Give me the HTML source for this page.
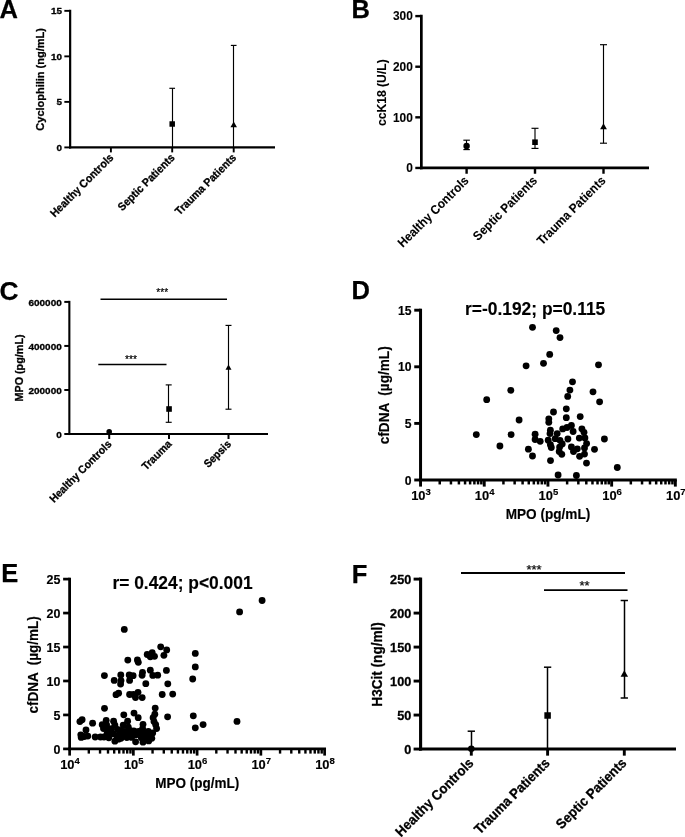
<!DOCTYPE html>
<html><head><meta charset="utf-8"><title>Figure</title>
<style>html,body{margin:0;padding:0;background:#fff}svg{display:block;will-change:transform}</style></head>
<body>
<svg width="685" height="837" viewBox="0 0 685 837" font-family='"Liberation Sans", sans-serif' fill="#000">
<rect width="685" height="837" fill="#fff"/>
<!-- panel A -->
<line x1="70.15" y1="9.75" x2="70.15" y2="148.50" stroke="#000" stroke-width="2.2" stroke-linecap="butt"/>
<line x1="69.05" y1="147.40" x2="275.00" y2="147.40" stroke="#000" stroke-width="2.2" stroke-linecap="butt"/>
<line x1="64.35" y1="147.40" x2="70.15" y2="147.40" stroke="#000" stroke-width="1.9" stroke-linecap="butt"/>
<text transform="translate(62.05,150.77) scale(1.0526,1)" font-size="9.40" font-weight="bold" text-anchor="end"  stroke="#000" stroke-width="0.3" stroke-linejoin="round">0</text>
<line x1="64.35" y1="101.88" x2="70.15" y2="101.88" stroke="#000" stroke-width="1.9" stroke-linecap="butt"/>
<text transform="translate(62.05,105.25) scale(1.0526,1)" font-size="9.40" font-weight="bold" text-anchor="end"  stroke="#000" stroke-width="0.3" stroke-linejoin="round">5</text>
<line x1="64.35" y1="56.37" x2="70.15" y2="56.37" stroke="#000" stroke-width="1.9" stroke-linecap="butt"/>
<text transform="translate(62.05,59.73) scale(1.0526,1)" font-size="9.40" font-weight="bold" text-anchor="end"  stroke="#000" stroke-width="0.3" stroke-linejoin="round">10</text>
<line x1="64.35" y1="10.85" x2="70.15" y2="10.85" stroke="#000" stroke-width="1.9" stroke-linecap="butt"/>
<text transform="translate(62.05,14.22) scale(1.0526,1)" font-size="9.40" font-weight="bold" text-anchor="end"  stroke="#000" stroke-width="0.3" stroke-linejoin="round">15</text>
<line x1="110.90" y1="147.40" x2="110.90" y2="152.40" stroke="#000" stroke-width="1.9" stroke-linecap="butt"/>
<text transform="translate(114.10,158.40) rotate(-45) scale(0.9346,1)" font-size="11.24" font-weight="bold" text-anchor="end"  stroke="#000" stroke-width="0.3" stroke-linejoin="round">Healthy Controls</text>
<line x1="172.20" y1="147.40" x2="172.20" y2="152.40" stroke="#000" stroke-width="1.9" stroke-linecap="butt"/>
<text transform="translate(175.40,158.40) rotate(-45) scale(0.9346,1)" font-size="11.24" font-weight="bold" text-anchor="end"  stroke="#000" stroke-width="0.3" stroke-linejoin="round">Septic Patients</text>
<line x1="233.70" y1="147.40" x2="233.70" y2="152.40" stroke="#000" stroke-width="1.9" stroke-linecap="butt"/>
<text transform="translate(236.90,158.40) rotate(-45) scale(0.9346,1)" font-size="11.24" font-weight="bold" text-anchor="end"  stroke="#000" stroke-width="0.3" stroke-linejoin="round">Trauma Patients</text>
<text transform="translate(44.30,79.40) rotate(-90) scale(0.9346,1)" font-size="11.77" font-weight="bold" text-anchor="middle"  stroke="#000" stroke-width="0.3" stroke-linejoin="round">Cyclophilin (ng/mL)</text>
<text transform="translate(-0.60,17.60) scale(1.0000,1)" font-size="25.50" font-weight="bold" text-anchor="start"  stroke="#000" stroke-width="0.25" stroke-linejoin="round">A</text>
<!-- panel B -->
<line x1="421.35" y1="14.75" x2="421.35" y2="169.30" stroke="#000" stroke-width="2.7" stroke-linecap="butt"/>
<line x1="420.00" y1="167.95" x2="649.00" y2="167.95" stroke="#000" stroke-width="2.7" stroke-linecap="butt"/>
<line x1="415.30" y1="167.95" x2="421.35" y2="167.95" stroke="#000" stroke-width="2.4" stroke-linecap="butt"/>
<text transform="translate(412.80,172.30) scale(0.9804,1)" font-size="12.14" font-weight="bold" text-anchor="end"  stroke="#000" stroke-width="0.1" stroke-linejoin="round">0</text>
<line x1="415.30" y1="117.33" x2="421.35" y2="117.33" stroke="#000" stroke-width="2.4" stroke-linecap="butt"/>
<text transform="translate(412.80,121.68) scale(0.9804,1)" font-size="12.14" font-weight="bold" text-anchor="end"  stroke="#000" stroke-width="0.1" stroke-linejoin="round">100</text>
<line x1="415.30" y1="66.72" x2="421.35" y2="66.72" stroke="#000" stroke-width="2.4" stroke-linecap="butt"/>
<text transform="translate(412.80,71.06) scale(0.9804,1)" font-size="12.14" font-weight="bold" text-anchor="end"  stroke="#000" stroke-width="0.1" stroke-linejoin="round">200</text>
<line x1="415.30" y1="16.10" x2="421.35" y2="16.10" stroke="#000" stroke-width="2.4" stroke-linecap="butt"/>
<text transform="translate(412.80,20.45) scale(0.9804,1)" font-size="12.14" font-weight="bold" text-anchor="end"  stroke="#000" stroke-width="0.1" stroke-linejoin="round">300</text>
<line x1="466.60" y1="167.95" x2="466.60" y2="173.75" stroke="#000" stroke-width="2.4" stroke-linecap="butt"/>
<text transform="translate(469.50,181.35) rotate(-45) scale(0.9346,1)" font-size="12.63" font-weight="bold" text-anchor="end"  stroke="#000" stroke-width="0.1" stroke-linejoin="round">Healthy Controls</text>
<line x1="535.00" y1="167.95" x2="535.00" y2="173.75" stroke="#000" stroke-width="2.4" stroke-linecap="butt"/>
<text transform="translate(537.90,181.35) rotate(-45) scale(0.9346,1)" font-size="12.63" font-weight="bold" text-anchor="end"  stroke="#000" stroke-width="0.1" stroke-linejoin="round">Septic Patients</text>
<line x1="603.50" y1="167.95" x2="603.50" y2="173.75" stroke="#000" stroke-width="2.4" stroke-linecap="butt"/>
<text transform="translate(606.40,181.35) rotate(-45) scale(0.9346,1)" font-size="12.63" font-weight="bold" text-anchor="end"  stroke="#000" stroke-width="0.1" stroke-linejoin="round">Trauma Patients</text>
<text transform="translate(386.20,92.70) rotate(-90) scale(0.9346,1)" font-size="13.00" font-weight="bold" text-anchor="middle"  stroke="#000" stroke-width="0.1" stroke-linejoin="round">ccK18 (U/L)</text>
<text transform="translate(351.40,17.60) scale(1.0000,1)" font-size="25.50" font-weight="bold" text-anchor="start"  stroke="#000" stroke-width="0.25" stroke-linejoin="round">B</text>
<!-- panel C -->
<line x1="69.35" y1="300.85" x2="69.35" y2="435.05" stroke="#000" stroke-width="2.1" stroke-linecap="butt"/>
<line x1="68.30" y1="434.00" x2="268.00" y2="434.00" stroke="#000" stroke-width="2.1" stroke-linecap="butt"/>
<line x1="64.30" y1="434.00" x2="69.35" y2="434.00" stroke="#000" stroke-width="2.0" stroke-linecap="butt"/>
<text transform="translate(61.80,437.80) scale(1.0526,1)" font-size="9.50" font-weight="bold" text-anchor="end"  stroke="#000" stroke-width="0.3" stroke-linejoin="round">0</text>
<line x1="64.30" y1="389.97" x2="69.35" y2="389.97" stroke="#000" stroke-width="2.0" stroke-linecap="butt"/>
<text transform="translate(61.80,393.77) scale(1.0526,1)" font-size="9.50" font-weight="bold" text-anchor="end"  stroke="#000" stroke-width="0.3" stroke-linejoin="round">200000</text>
<line x1="64.30" y1="345.93" x2="69.35" y2="345.93" stroke="#000" stroke-width="2.0" stroke-linecap="butt"/>
<text transform="translate(61.80,349.73) scale(1.0526,1)" font-size="9.50" font-weight="bold" text-anchor="end"  stroke="#000" stroke-width="0.3" stroke-linejoin="round">400000</text>
<line x1="64.30" y1="301.90" x2="69.35" y2="301.90" stroke="#000" stroke-width="2.0" stroke-linecap="butt"/>
<text transform="translate(61.80,305.70) scale(1.0526,1)" font-size="9.50" font-weight="bold" text-anchor="end"  stroke="#000" stroke-width="0.3" stroke-linejoin="round">600000</text>
<line x1="109.20" y1="434.00" x2="109.20" y2="439.00" stroke="#000" stroke-width="2.0" stroke-linecap="butt"/>
<text transform="translate(112.40,444.80) rotate(-45) scale(0.9346,1)" font-size="11.07" font-weight="bold" text-anchor="end"  stroke="#000" stroke-width="0.3" stroke-linejoin="round">Healthy Controls</text>
<line x1="169.00" y1="434.00" x2="169.00" y2="439.00" stroke="#000" stroke-width="2.0" stroke-linecap="butt"/>
<text transform="translate(172.20,444.80) rotate(-45) scale(0.9346,1)" font-size="11.07" font-weight="bold" text-anchor="end"  stroke="#000" stroke-width="0.3" stroke-linejoin="round">Trauma</text>
<line x1="228.50" y1="434.00" x2="228.50" y2="439.00" stroke="#000" stroke-width="2.0" stroke-linecap="butt"/>
<text transform="translate(231.70,444.80) rotate(-45) scale(0.9346,1)" font-size="11.07" font-weight="bold" text-anchor="end"  stroke="#000" stroke-width="0.3" stroke-linejoin="round">Sepsis</text>
<text transform="translate(22.50,368.00) rotate(-90) scale(0.9346,1)" font-size="11.56" font-weight="bold" text-anchor="middle"  stroke="#000" stroke-width="0.3" stroke-linejoin="round">MPO (pg/mL)</text>
<text transform="translate(-0.60,299.80) scale(1.0000,1)" font-size="26.30" font-weight="bold" text-anchor="start"  stroke="#000" stroke-width="0.25" stroke-linejoin="round">C</text>
<!-- panel F -->
<line x1="420.60" y1="577.55" x2="420.60" y2="750.60" stroke="#000" stroke-width="3.1" stroke-linecap="butt"/>
<line x1="419.05" y1="749.05" x2="676.00" y2="749.05" stroke="#000" stroke-width="3.1" stroke-linecap="butt"/>
<line x1="413.60" y1="749.05" x2="420.60" y2="749.05" stroke="#000" stroke-width="2.9" stroke-linecap="butt"/>
<text transform="translate(411.30,753.91) scale(0.9346,1)" font-size="13.59" font-weight="bold" text-anchor="end"  stroke="#000" stroke-width="0.3" stroke-linejoin="round">0</text>
<line x1="413.60" y1="715.06" x2="420.60" y2="715.06" stroke="#000" stroke-width="2.9" stroke-linecap="butt"/>
<text transform="translate(411.30,719.92) scale(0.9346,1)" font-size="13.59" font-weight="bold" text-anchor="end"  stroke="#000" stroke-width="0.3" stroke-linejoin="round">50</text>
<line x1="413.60" y1="681.07" x2="420.60" y2="681.07" stroke="#000" stroke-width="2.9" stroke-linecap="butt"/>
<text transform="translate(411.30,685.93) scale(0.9346,1)" font-size="13.59" font-weight="bold" text-anchor="end"  stroke="#000" stroke-width="0.3" stroke-linejoin="round">100</text>
<line x1="413.60" y1="647.08" x2="420.60" y2="647.08" stroke="#000" stroke-width="2.9" stroke-linecap="butt"/>
<text transform="translate(411.30,651.94) scale(0.9346,1)" font-size="13.59" font-weight="bold" text-anchor="end"  stroke="#000" stroke-width="0.3" stroke-linejoin="round">150</text>
<line x1="413.60" y1="613.09" x2="420.60" y2="613.09" stroke="#000" stroke-width="2.9" stroke-linecap="butt"/>
<text transform="translate(411.30,617.95) scale(0.9346,1)" font-size="13.59" font-weight="bold" text-anchor="end"  stroke="#000" stroke-width="0.3" stroke-linejoin="round">200</text>
<line x1="413.60" y1="579.10" x2="420.60" y2="579.10" stroke="#000" stroke-width="2.9" stroke-linecap="butt"/>
<text transform="translate(411.30,583.96) scale(0.9346,1)" font-size="13.59" font-weight="bold" text-anchor="end"  stroke="#000" stroke-width="0.3" stroke-linejoin="round">250</text>
<line x1="471.30" y1="749.05" x2="471.30" y2="755.65" stroke="#000" stroke-width="2.9" stroke-linecap="butt"/>
<text transform="translate(474.40,763.95) rotate(-45) scale(0.9346,1)" font-size="13.91" font-weight="bold" text-anchor="end"  stroke="#000" stroke-width="0.3" stroke-linejoin="round">Healthy Controls</text>
<line x1="547.60" y1="749.05" x2="547.60" y2="755.65" stroke="#000" stroke-width="2.9" stroke-linecap="butt"/>
<text transform="translate(550.70,763.95) rotate(-45) scale(0.9346,1)" font-size="13.91" font-weight="bold" text-anchor="end"  stroke="#000" stroke-width="0.3" stroke-linejoin="round">Trauma Patients</text>
<line x1="624.30" y1="749.05" x2="624.30" y2="755.65" stroke="#000" stroke-width="2.9" stroke-linecap="butt"/>
<text transform="translate(627.40,763.95) rotate(-45) scale(0.9346,1)" font-size="13.91" font-weight="bold" text-anchor="end"  stroke="#000" stroke-width="0.3" stroke-linejoin="round">Septic Patients</text>
<text transform="translate(382.30,664.40) rotate(-90) scale(0.9346,1)" font-size="14.55" font-weight="bold" text-anchor="middle"  stroke="#000" stroke-width="0.3" stroke-linejoin="round">H3Cit (ng/ml)</text>
<text transform="translate(351.80,582.60) scale(1.0000,1)" font-size="25.50" font-weight="bold" text-anchor="start"  stroke="#000" stroke-width="0.25" stroke-linejoin="round">F</text>
<line x1="172.50" y1="88.30" x2="172.50" y2="147.40" stroke="#000" stroke-width="1.15" stroke-linecap="butt"/>
<line x1="169.35" y1="88.30" x2="175.05" y2="88.30" stroke="#000" stroke-width="1.15" stroke-linecap="butt"/>
<rect x="169.45" y="121.25" width="5.5" height="5.5" fill="#000"/>
<line x1="233.50" y1="45.40" x2="233.50" y2="147.40" stroke="#000" stroke-width="1.15" stroke-linecap="butt"/>
<line x1="230.85" y1="45.40" x2="236.55" y2="45.40" stroke="#000" stroke-width="1.15" stroke-linecap="butt"/>
<polygon points="233.70,121.60 230.45,127.30 236.95,127.30" fill="#000"/>
<line x1="466.50" y1="140.20" x2="466.50" y2="149.60" stroke="#000" stroke-width="1.15" stroke-linecap="butt"/>
<line x1="463.35" y1="140.20" x2="469.85" y2="140.20" stroke="#000" stroke-width="1.15" stroke-linecap="butt"/>
<line x1="463.35" y1="149.60" x2="469.85" y2="149.60" stroke="#000" stroke-width="1.15" stroke-linecap="butt"/>
<circle cx="466.60" cy="145.90" r="3.2" fill="#000"/>
<line x1="535.00" y1="128.30" x2="535.00" y2="148.40" stroke="#000" stroke-width="1.15" stroke-linecap="butt"/>
<line x1="531.50" y1="128.30" x2="538.50" y2="128.30" stroke="#000" stroke-width="1.15" stroke-linecap="butt"/>
<line x1="531.50" y1="148.40" x2="538.50" y2="148.40" stroke="#000" stroke-width="1.15" stroke-linecap="butt"/>
<rect x="532.20" y="139.40" width="5.6" height="5.6" fill="#000"/>
<line x1="603.50" y1="44.70" x2="603.50" y2="143.20" stroke="#000" stroke-width="1.15" stroke-linecap="butt"/>
<line x1="600.00" y1="44.70" x2="607.00" y2="44.70" stroke="#000" stroke-width="1.15" stroke-linecap="butt"/>
<line x1="600.00" y1="143.20" x2="607.00" y2="143.20" stroke="#000" stroke-width="1.15" stroke-linecap="butt"/>
<polygon points="603.50,123.30 600.10,129.30 606.90,129.30" fill="#000"/>
<circle cx="109.20" cy="431.80" r="2.8" fill="#000"/>
<line x1="168.50" y1="384.90" x2="168.50" y2="422.30" stroke="#000" stroke-width="1.15" stroke-linecap="butt"/>
<line x1="165.70" y1="384.90" x2="171.70" y2="384.90" stroke="#000" stroke-width="1.15" stroke-linecap="butt"/>
<line x1="165.70" y1="422.30" x2="171.70" y2="422.30" stroke="#000" stroke-width="1.15" stroke-linecap="butt"/>
<rect x="166.25" y="406.20" width="5.6" height="5.6" fill="#000"/>
<line x1="228.50" y1="325.40" x2="228.50" y2="409.20" stroke="#000" stroke-width="1.15" stroke-linecap="butt"/>
<line x1="225.50" y1="325.40" x2="231.50" y2="325.40" stroke="#000" stroke-width="1.15" stroke-linecap="butt"/>
<line x1="225.50" y1="409.20" x2="231.50" y2="409.20" stroke="#000" stroke-width="1.15" stroke-linecap="butt"/>
<polygon points="228.50,364.60 225.50,369.80 231.50,369.80" fill="#000"/>
<line x1="100.50" y1="299.20" x2="227.00" y2="299.20" stroke="#000" stroke-width="1.5" stroke-linecap="butt"/>
<text transform="translate(162.30,295.90) scale(1.0000,1)" font-size="10.20" font-weight="normal" text-anchor="middle"  stroke="#000" stroke-width="0.2" stroke-linejoin="round">***</text>
<line x1="98.30" y1="364.60" x2="166.50" y2="364.60" stroke="#000" stroke-width="1.5" stroke-linecap="butt"/>
<text transform="translate(131.00,362.80) scale(1.0000,1)" font-size="10.20" font-weight="normal" text-anchor="middle"  stroke="#000" stroke-width="0.2" stroke-linejoin="round">***</text>
<line x1="471.50" y1="731.20" x2="471.50" y2="749.10" stroke="#000" stroke-width="1.5" stroke-linecap="butt"/>
<line x1="467.65" y1="731.20" x2="474.95" y2="731.20" stroke="#000" stroke-width="1.5" stroke-linecap="butt"/>
<circle cx="471.30" cy="748.70" r="3.3" fill="#000"/>
<line x1="547.50" y1="667.20" x2="547.50" y2="749.10" stroke="#000" stroke-width="1.5" stroke-linecap="butt"/>
<line x1="543.95" y1="667.20" x2="551.25" y2="667.20" stroke="#000" stroke-width="1.5" stroke-linecap="butt"/>
<rect x="544.35" y="712.25" width="6.5" height="6.5" fill="#000"/>
<line x1="624.50" y1="600.50" x2="624.50" y2="698.00" stroke="#000" stroke-width="1.5" stroke-linecap="butt"/>
<line x1="620.65" y1="600.50" x2="627.95" y2="600.50" stroke="#000" stroke-width="1.5" stroke-linecap="butt"/>
<line x1="620.65" y1="698.00" x2="627.95" y2="698.00" stroke="#000" stroke-width="1.5" stroke-linecap="butt"/>
<polygon points="624.30,670.20 620.55,676.80 628.05,676.80" fill="#000"/>
<line x1="461.00" y1="573.00" x2="625.00" y2="573.00" stroke="#000" stroke-width="1.8" stroke-linecap="butt"/>
<text transform="translate(534.00,573.50) scale(1.0000,1)" font-size="13.00" font-weight="normal" text-anchor="middle"  stroke="#000" stroke-width="0.2" stroke-linejoin="round">***</text>
<line x1="544.00" y1="590.10" x2="627.50" y2="590.10" stroke="#000" stroke-width="1.8" stroke-linecap="butt"/>
<text transform="translate(584.50,590.20) scale(1.0000,1)" font-size="13.00" font-weight="normal" text-anchor="middle"  stroke="#000" stroke-width="0.2" stroke-linejoin="round">**</text>
<!-- panel D -->
<line x1="420.55" y1="308.70" x2="420.55" y2="481.50" stroke="#000" stroke-width="3.0" stroke-linecap="butt"/>
<line x1="419.05" y1="480.00" x2="676.85" y2="480.00" stroke="#000" stroke-width="3.0" stroke-linecap="butt"/>
<line x1="414.25" y1="480.00" x2="420.55" y2="480.00" stroke="#000" stroke-width="2.9" stroke-linecap="butt"/>
<text transform="translate(411.45,484.67) scale(0.9346,1)" font-size="13.05" font-weight="bold" text-anchor="end"  stroke="#000" stroke-width="0.15" stroke-linejoin="round">0</text>
<line x1="414.25" y1="423.40" x2="420.55" y2="423.40" stroke="#000" stroke-width="2.9" stroke-linecap="butt"/>
<text transform="translate(411.45,428.07) scale(0.9346,1)" font-size="13.05" font-weight="bold" text-anchor="end"  stroke="#000" stroke-width="0.15" stroke-linejoin="round">5</text>
<line x1="414.25" y1="366.80" x2="420.55" y2="366.80" stroke="#000" stroke-width="2.9" stroke-linecap="butt"/>
<text transform="translate(411.45,371.47) scale(0.9346,1)" font-size="13.05" font-weight="bold" text-anchor="end"  stroke="#000" stroke-width="0.15" stroke-linejoin="round">10</text>
<line x1="414.25" y1="310.20" x2="420.55" y2="310.20" stroke="#000" stroke-width="2.9" stroke-linecap="butt"/>
<text transform="translate(411.45,314.87) scale(0.9346,1)" font-size="13.05" font-weight="bold" text-anchor="end"  stroke="#000" stroke-width="0.15" stroke-linejoin="round">15</text>
<line x1="420.55" y1="480.00" x2="420.55" y2="486.60" stroke="#000" stroke-width="2.9" stroke-linecap="butt"/>
<text x="421.00" y="499.80" font-size="12.90" font-weight="bold" text-anchor="middle" stroke="#000" stroke-width="0.15">10<tspan dy="-5.0" font-size="9.55">3</tspan></text>
<line x1="439.73" y1="480.00" x2="439.73" y2="484.45" stroke="#000" stroke-width="2.5" stroke-linecap="butt"/>
<line x1="450.94" y1="480.00" x2="450.94" y2="484.45" stroke="#000" stroke-width="2.5" stroke-linecap="butt"/>
<line x1="458.90" y1="480.00" x2="458.90" y2="484.45" stroke="#000" stroke-width="2.5" stroke-linecap="butt"/>
<line x1="465.07" y1="480.00" x2="465.07" y2="484.45" stroke="#000" stroke-width="2.5" stroke-linecap="butt"/>
<line x1="470.12" y1="480.00" x2="470.12" y2="484.45" stroke="#000" stroke-width="2.5" stroke-linecap="butt"/>
<line x1="474.38" y1="480.00" x2="474.38" y2="484.45" stroke="#000" stroke-width="2.5" stroke-linecap="butt"/>
<line x1="478.08" y1="480.00" x2="478.08" y2="484.45" stroke="#000" stroke-width="2.5" stroke-linecap="butt"/>
<line x1="481.34" y1="480.00" x2="481.34" y2="484.45" stroke="#000" stroke-width="2.5" stroke-linecap="butt"/>
<line x1="484.25" y1="480.00" x2="484.25" y2="486.60" stroke="#000" stroke-width="2.9" stroke-linecap="butt"/>
<text x="484.70" y="499.80" font-size="12.90" font-weight="bold" text-anchor="middle" stroke="#000" stroke-width="0.15">10<tspan dy="-5.0" font-size="9.55">4</tspan></text>
<line x1="503.43" y1="480.00" x2="503.43" y2="484.45" stroke="#000" stroke-width="2.5" stroke-linecap="butt"/>
<line x1="514.64" y1="480.00" x2="514.64" y2="484.45" stroke="#000" stroke-width="2.5" stroke-linecap="butt"/>
<line x1="522.60" y1="480.00" x2="522.60" y2="484.45" stroke="#000" stroke-width="2.5" stroke-linecap="butt"/>
<line x1="528.77" y1="480.00" x2="528.77" y2="484.45" stroke="#000" stroke-width="2.5" stroke-linecap="butt"/>
<line x1="533.82" y1="480.00" x2="533.82" y2="484.45" stroke="#000" stroke-width="2.5" stroke-linecap="butt"/>
<line x1="538.08" y1="480.00" x2="538.08" y2="484.45" stroke="#000" stroke-width="2.5" stroke-linecap="butt"/>
<line x1="541.78" y1="480.00" x2="541.78" y2="484.45" stroke="#000" stroke-width="2.5" stroke-linecap="butt"/>
<line x1="545.04" y1="480.00" x2="545.04" y2="484.45" stroke="#000" stroke-width="2.5" stroke-linecap="butt"/>
<line x1="547.95" y1="480.00" x2="547.95" y2="486.60" stroke="#000" stroke-width="2.9" stroke-linecap="butt"/>
<text x="548.40" y="499.80" font-size="12.90" font-weight="bold" text-anchor="middle" stroke="#000" stroke-width="0.15">10<tspan dy="-5.0" font-size="9.55">5</tspan></text>
<line x1="567.13" y1="480.00" x2="567.13" y2="484.45" stroke="#000" stroke-width="2.5" stroke-linecap="butt"/>
<line x1="578.34" y1="480.00" x2="578.34" y2="484.45" stroke="#000" stroke-width="2.5" stroke-linecap="butt"/>
<line x1="586.30" y1="480.00" x2="586.30" y2="484.45" stroke="#000" stroke-width="2.5" stroke-linecap="butt"/>
<line x1="592.47" y1="480.00" x2="592.47" y2="484.45" stroke="#000" stroke-width="2.5" stroke-linecap="butt"/>
<line x1="597.52" y1="480.00" x2="597.52" y2="484.45" stroke="#000" stroke-width="2.5" stroke-linecap="butt"/>
<line x1="601.78" y1="480.00" x2="601.78" y2="484.45" stroke="#000" stroke-width="2.5" stroke-linecap="butt"/>
<line x1="605.48" y1="480.00" x2="605.48" y2="484.45" stroke="#000" stroke-width="2.5" stroke-linecap="butt"/>
<line x1="608.74" y1="480.00" x2="608.74" y2="484.45" stroke="#000" stroke-width="2.5" stroke-linecap="butt"/>
<line x1="611.65" y1="480.00" x2="611.65" y2="486.60" stroke="#000" stroke-width="2.9" stroke-linecap="butt"/>
<text x="612.10" y="499.80" font-size="12.90" font-weight="bold" text-anchor="middle" stroke="#000" stroke-width="0.15">10<tspan dy="-5.0" font-size="9.55">6</tspan></text>
<line x1="630.83" y1="480.00" x2="630.83" y2="484.45" stroke="#000" stroke-width="2.5" stroke-linecap="butt"/>
<line x1="642.04" y1="480.00" x2="642.04" y2="484.45" stroke="#000" stroke-width="2.5" stroke-linecap="butt"/>
<line x1="650.00" y1="480.00" x2="650.00" y2="484.45" stroke="#000" stroke-width="2.5" stroke-linecap="butt"/>
<line x1="656.17" y1="480.00" x2="656.17" y2="484.45" stroke="#000" stroke-width="2.5" stroke-linecap="butt"/>
<line x1="661.22" y1="480.00" x2="661.22" y2="484.45" stroke="#000" stroke-width="2.5" stroke-linecap="butt"/>
<line x1="665.48" y1="480.00" x2="665.48" y2="484.45" stroke="#000" stroke-width="2.5" stroke-linecap="butt"/>
<line x1="669.18" y1="480.00" x2="669.18" y2="484.45" stroke="#000" stroke-width="2.5" stroke-linecap="butt"/>
<line x1="672.44" y1="480.00" x2="672.44" y2="484.45" stroke="#000" stroke-width="2.5" stroke-linecap="butt"/>
<line x1="675.35" y1="480.00" x2="675.35" y2="486.60" stroke="#000" stroke-width="2.9" stroke-linecap="butt"/>
<text x="675.80" y="499.80" font-size="12.90" font-weight="bold" text-anchor="middle" stroke="#000" stroke-width="0.15">10<tspan dy="-5.0" font-size="9.55">7</tspan></text>
<text transform="translate(389.30,395.30) rotate(-90) scale(0.9346,1)" font-size="14.55" font-weight="bold" text-anchor="middle" style="white-space:pre" stroke="#000" stroke-width="0.15" stroke-linejoin="round">cfDNA  (µg/mL)</text>
<text transform="translate(548.00,519.30) scale(0.9346,1)" font-size="14.55" font-weight="bold" text-anchor="middle"  stroke="#000" stroke-width="0.15" stroke-linejoin="round">MPO (pg/mL)</text>
<text transform="translate(465.00,314.50) scale(0.9346,1)" font-size="18.62" font-weight="bold" text-anchor="start" style="white-space:pre" stroke="#000" stroke-width="0.15" stroke-linejoin="round">r=-0.192; p=0.115</text>
<text transform="translate(351.40,299.30) scale(1.0000,1)" font-size="25.50" font-weight="bold" text-anchor="start"  stroke="#000" stroke-width="0.25" stroke-linejoin="round">D</text>
<circle cx="532.50" cy="327.30" r="3.42" fill="#000"/>
<circle cx="556.20" cy="330.60" r="3.42" fill="#000"/>
<circle cx="560.00" cy="337.60" r="3.42" fill="#000"/>
<circle cx="549.70" cy="354.40" r="3.42" fill="#000"/>
<circle cx="543.50" cy="363.30" r="3.42" fill="#000"/>
<circle cx="526.10" cy="365.80" r="3.42" fill="#000"/>
<circle cx="598.50" cy="364.80" r="3.42" fill="#000"/>
<circle cx="572.50" cy="381.80" r="3.42" fill="#000"/>
<circle cx="510.80" cy="390.30" r="3.42" fill="#000"/>
<circle cx="569.90" cy="390.10" r="3.42" fill="#000"/>
<circle cx="593.00" cy="391.80" r="3.42" fill="#000"/>
<circle cx="486.70" cy="399.70" r="3.42" fill="#000"/>
<circle cx="567.70" cy="396.40" r="3.42" fill="#000"/>
<circle cx="599.60" cy="401.80" r="3.42" fill="#000"/>
<circle cx="566.30" cy="408.80" r="3.42" fill="#000"/>
<circle cx="553.50" cy="412.00" r="3.42" fill="#000"/>
<circle cx="566.30" cy="417.70" r="3.42" fill="#000"/>
<circle cx="580.20" cy="416.60" r="3.42" fill="#000"/>
<circle cx="548.80" cy="418.80" r="3.42" fill="#000"/>
<circle cx="548.80" cy="422.30" r="3.42" fill="#000"/>
<circle cx="519.10" cy="420.00" r="3.42" fill="#000"/>
<circle cx="571.40" cy="425.50" r="3.42" fill="#000"/>
<circle cx="567.00" cy="427.50" r="3.42" fill="#000"/>
<circle cx="562.70" cy="428.90" r="3.42" fill="#000"/>
<circle cx="581.90" cy="428.80" r="3.42" fill="#000"/>
<circle cx="550.40" cy="430.20" r="3.42" fill="#000"/>
<circle cx="573.10" cy="431.50" r="3.42" fill="#000"/>
<circle cx="557.20" cy="433.60" r="3.42" fill="#000"/>
<circle cx="550.00" cy="433.60" r="3.42" fill="#000"/>
<circle cx="535.10" cy="434.20" r="3.42" fill="#000"/>
<circle cx="476.30" cy="434.60" r="3.42" fill="#000"/>
<circle cx="511.10" cy="434.60" r="3.42" fill="#000"/>
<circle cx="584.00" cy="432.30" r="3.42" fill="#000"/>
<circle cx="579.30" cy="438.10" r="3.42" fill="#000"/>
<circle cx="584.90" cy="438.00" r="3.42" fill="#000"/>
<circle cx="567.90" cy="439.00" r="3.42" fill="#000"/>
<circle cx="535.10" cy="439.50" r="3.42" fill="#000"/>
<circle cx="548.20" cy="440.20" r="3.42" fill="#000"/>
<circle cx="555.20" cy="438.70" r="3.42" fill="#000"/>
<circle cx="560.00" cy="440.30" r="3.42" fill="#000"/>
<circle cx="540.20" cy="441.30" r="3.42" fill="#000"/>
<circle cx="604.40" cy="439.00" r="3.42" fill="#000"/>
<circle cx="550.40" cy="444.70" r="3.42" fill="#000"/>
<circle cx="562.20" cy="444.00" r="3.42" fill="#000"/>
<circle cx="586.60" cy="443.60" r="3.42" fill="#000"/>
<circle cx="551.30" cy="447.50" r="3.42" fill="#000"/>
<circle cx="559.60" cy="447.10" r="3.42" fill="#000"/>
<circle cx="571.40" cy="447.00" r="3.42" fill="#000"/>
<circle cx="577.30" cy="448.80" r="3.42" fill="#000"/>
<circle cx="584.50" cy="448.00" r="3.42" fill="#000"/>
<circle cx="594.50" cy="449.30" r="3.42" fill="#000"/>
<circle cx="573.50" cy="451.50" r="3.42" fill="#000"/>
<circle cx="559.20" cy="451.50" r="3.42" fill="#000"/>
<circle cx="561.80" cy="454.30" r="3.42" fill="#000"/>
<circle cx="528.40" cy="449.20" r="3.42" fill="#000"/>
<circle cx="499.90" cy="446.00" r="3.42" fill="#000"/>
<circle cx="532.50" cy="456.00" r="3.42" fill="#000"/>
<circle cx="584.50" cy="454.10" r="3.42" fill="#000"/>
<circle cx="579.60" cy="456.30" r="3.42" fill="#000"/>
<circle cx="550.50" cy="460.60" r="3.42" fill="#000"/>
<circle cx="586.50" cy="463.10" r="3.42" fill="#000"/>
<circle cx="617.30" cy="467.50" r="3.42" fill="#000"/>
<circle cx="558.10" cy="475.00" r="3.42" fill="#000"/>
<circle cx="576.40" cy="475.50" r="3.42" fill="#000"/>
<!-- panel E -->
<line x1="69.62" y1="577.70" x2="69.62" y2="750.30" stroke="#000" stroke-width="2.8" stroke-linecap="butt"/>
<line x1="68.22" y1="748.90" x2="326.02" y2="748.90" stroke="#000" stroke-width="2.8" stroke-linecap="butt"/>
<line x1="63.12" y1="748.90" x2="69.62" y2="748.90" stroke="#000" stroke-width="2.7" stroke-linecap="butt"/>
<text transform="translate(60.52,754.14) scale(0.9346,1)" font-size="13.38" font-weight="bold" text-anchor="end"  stroke="#000" stroke-width="0.15" stroke-linejoin="round">0</text>
<line x1="63.12" y1="714.94" x2="69.62" y2="714.94" stroke="#000" stroke-width="2.7" stroke-linecap="butt"/>
<text transform="translate(60.52,720.18) scale(0.9346,1)" font-size="13.38" font-weight="bold" text-anchor="end"  stroke="#000" stroke-width="0.15" stroke-linejoin="round">5</text>
<line x1="63.12" y1="680.98" x2="69.62" y2="680.98" stroke="#000" stroke-width="2.7" stroke-linecap="butt"/>
<text transform="translate(60.52,686.22) scale(0.9346,1)" font-size="13.38" font-weight="bold" text-anchor="end"  stroke="#000" stroke-width="0.15" stroke-linejoin="round">10</text>
<line x1="63.12" y1="647.02" x2="69.62" y2="647.02" stroke="#000" stroke-width="2.7" stroke-linecap="butt"/>
<text transform="translate(60.52,652.26) scale(0.9346,1)" font-size="13.38" font-weight="bold" text-anchor="end"  stroke="#000" stroke-width="0.15" stroke-linejoin="round">15</text>
<line x1="63.12" y1="613.06" x2="69.62" y2="613.06" stroke="#000" stroke-width="2.7" stroke-linecap="butt"/>
<text transform="translate(60.52,618.30) scale(0.9346,1)" font-size="13.38" font-weight="bold" text-anchor="end"  stroke="#000" stroke-width="0.15" stroke-linejoin="round">20</text>
<line x1="63.12" y1="579.10" x2="69.62" y2="579.10" stroke="#000" stroke-width="2.7" stroke-linecap="butt"/>
<text transform="translate(60.52,584.34) scale(0.9346,1)" font-size="13.38" font-weight="bold" text-anchor="end"  stroke="#000" stroke-width="0.15" stroke-linejoin="round">25</text>
<line x1="69.62" y1="748.90" x2="69.62" y2="755.60" stroke="#000" stroke-width="2.7" stroke-linecap="butt"/>
<text x="70.02" y="768.70" font-size="12.90" font-weight="bold" text-anchor="middle" stroke="#000" stroke-width="0.15">10<tspan dy="-5.0" font-size="9.55">4</tspan></text>
<line x1="88.81" y1="748.90" x2="88.81" y2="753.60" stroke="#000" stroke-width="2.4" stroke-linecap="butt"/>
<line x1="100.04" y1="748.90" x2="100.04" y2="753.60" stroke="#000" stroke-width="2.4" stroke-linecap="butt"/>
<line x1="108.00" y1="748.90" x2="108.00" y2="753.60" stroke="#000" stroke-width="2.4" stroke-linecap="butt"/>
<line x1="114.18" y1="748.90" x2="114.18" y2="753.60" stroke="#000" stroke-width="2.4" stroke-linecap="butt"/>
<line x1="119.23" y1="748.90" x2="119.23" y2="753.60" stroke="#000" stroke-width="2.4" stroke-linecap="butt"/>
<line x1="123.50" y1="748.90" x2="123.50" y2="753.60" stroke="#000" stroke-width="2.4" stroke-linecap="butt"/>
<line x1="127.19" y1="748.90" x2="127.19" y2="753.60" stroke="#000" stroke-width="2.4" stroke-linecap="butt"/>
<line x1="130.45" y1="748.90" x2="130.45" y2="753.60" stroke="#000" stroke-width="2.4" stroke-linecap="butt"/>
<line x1="133.37" y1="748.90" x2="133.37" y2="755.60" stroke="#000" stroke-width="2.7" stroke-linecap="butt"/>
<text x="133.77" y="768.70" font-size="12.90" font-weight="bold" text-anchor="middle" stroke="#000" stroke-width="0.15">10<tspan dy="-5.0" font-size="9.55">5</tspan></text>
<line x1="152.56" y1="748.90" x2="152.56" y2="753.60" stroke="#000" stroke-width="2.4" stroke-linecap="butt"/>
<line x1="163.79" y1="748.90" x2="163.79" y2="753.60" stroke="#000" stroke-width="2.4" stroke-linecap="butt"/>
<line x1="171.75" y1="748.90" x2="171.75" y2="753.60" stroke="#000" stroke-width="2.4" stroke-linecap="butt"/>
<line x1="177.93" y1="748.90" x2="177.93" y2="753.60" stroke="#000" stroke-width="2.4" stroke-linecap="butt"/>
<line x1="182.98" y1="748.90" x2="182.98" y2="753.60" stroke="#000" stroke-width="2.4" stroke-linecap="butt"/>
<line x1="187.25" y1="748.90" x2="187.25" y2="753.60" stroke="#000" stroke-width="2.4" stroke-linecap="butt"/>
<line x1="190.94" y1="748.90" x2="190.94" y2="753.60" stroke="#000" stroke-width="2.4" stroke-linecap="butt"/>
<line x1="194.20" y1="748.90" x2="194.20" y2="753.60" stroke="#000" stroke-width="2.4" stroke-linecap="butt"/>
<line x1="197.12" y1="748.90" x2="197.12" y2="755.60" stroke="#000" stroke-width="2.7" stroke-linecap="butt"/>
<text x="197.52" y="768.70" font-size="12.90" font-weight="bold" text-anchor="middle" stroke="#000" stroke-width="0.15">10<tspan dy="-5.0" font-size="9.55">6</tspan></text>
<line x1="216.31" y1="748.90" x2="216.31" y2="753.60" stroke="#000" stroke-width="2.4" stroke-linecap="butt"/>
<line x1="227.54" y1="748.90" x2="227.54" y2="753.60" stroke="#000" stroke-width="2.4" stroke-linecap="butt"/>
<line x1="235.50" y1="748.90" x2="235.50" y2="753.60" stroke="#000" stroke-width="2.4" stroke-linecap="butt"/>
<line x1="241.68" y1="748.90" x2="241.68" y2="753.60" stroke="#000" stroke-width="2.4" stroke-linecap="butt"/>
<line x1="246.73" y1="748.90" x2="246.73" y2="753.60" stroke="#000" stroke-width="2.4" stroke-linecap="butt"/>
<line x1="251.00" y1="748.90" x2="251.00" y2="753.60" stroke="#000" stroke-width="2.4" stroke-linecap="butt"/>
<line x1="254.69" y1="748.90" x2="254.69" y2="753.60" stroke="#000" stroke-width="2.4" stroke-linecap="butt"/>
<line x1="257.95" y1="748.90" x2="257.95" y2="753.60" stroke="#000" stroke-width="2.4" stroke-linecap="butt"/>
<line x1="260.87" y1="748.90" x2="260.87" y2="755.60" stroke="#000" stroke-width="2.7" stroke-linecap="butt"/>
<text x="261.27" y="768.70" font-size="12.90" font-weight="bold" text-anchor="middle" stroke="#000" stroke-width="0.15">10<tspan dy="-5.0" font-size="9.55">7</tspan></text>
<line x1="280.06" y1="748.90" x2="280.06" y2="753.60" stroke="#000" stroke-width="2.4" stroke-linecap="butt"/>
<line x1="291.29" y1="748.90" x2="291.29" y2="753.60" stroke="#000" stroke-width="2.4" stroke-linecap="butt"/>
<line x1="299.25" y1="748.90" x2="299.25" y2="753.60" stroke="#000" stroke-width="2.4" stroke-linecap="butt"/>
<line x1="305.43" y1="748.90" x2="305.43" y2="753.60" stroke="#000" stroke-width="2.4" stroke-linecap="butt"/>
<line x1="310.48" y1="748.90" x2="310.48" y2="753.60" stroke="#000" stroke-width="2.4" stroke-linecap="butt"/>
<line x1="314.75" y1="748.90" x2="314.75" y2="753.60" stroke="#000" stroke-width="2.4" stroke-linecap="butt"/>
<line x1="318.44" y1="748.90" x2="318.44" y2="753.60" stroke="#000" stroke-width="2.4" stroke-linecap="butt"/>
<line x1="321.70" y1="748.90" x2="321.70" y2="753.60" stroke="#000" stroke-width="2.4" stroke-linecap="butt"/>
<line x1="324.62" y1="748.90" x2="324.62" y2="755.60" stroke="#000" stroke-width="2.7" stroke-linecap="butt"/>
<text x="325.02" y="768.70" font-size="12.90" font-weight="bold" text-anchor="middle" stroke="#000" stroke-width="0.15">10<tspan dy="-5.0" font-size="9.55">8</tspan></text>
<text transform="translate(38.00,664.90) rotate(-90) scale(0.9346,1)" font-size="14.45" font-weight="bold" text-anchor="middle" style="white-space:pre" stroke="#000" stroke-width="0.15" stroke-linejoin="round">cfDNA  (µg/mL)</text>
<text transform="translate(197.20,788.40) scale(0.9346,1)" font-size="14.45" font-weight="bold" text-anchor="middle"  stroke="#000" stroke-width="0.15" stroke-linejoin="round">MPO (pg/mL)</text>
<text transform="translate(112.40,588.80) scale(0.9346,1)" font-size="18.62" font-weight="bold" text-anchor="start" style="white-space:pre" stroke="#000" stroke-width="0.15" stroke-linejoin="round">r= 0.424; p&lt;0.001</text>
<text transform="translate(1.30,582.40) scale(1.0000,1)" font-size="25.50" font-weight="bold" text-anchor="start"  stroke="#000" stroke-width="0.25" stroke-linejoin="round">E</text>
<circle cx="262.10" cy="600.50" r="3.42" fill="#000"/>
<circle cx="239.60" cy="611.90" r="3.42" fill="#000"/>
<circle cx="195.30" cy="653.40" r="3.42" fill="#000"/>
<circle cx="195.30" cy="666.90" r="3.42" fill="#000"/>
<circle cx="192.70" cy="679.00" r="3.42" fill="#000"/>
<circle cx="193.30" cy="715.80" r="3.42" fill="#000"/>
<circle cx="203.10" cy="724.60" r="3.42" fill="#000"/>
<circle cx="195.30" cy="727.80" r="3.42" fill="#000"/>
<circle cx="237.00" cy="721.40" r="3.42" fill="#000"/>
<circle cx="124.30" cy="629.40" r="3.42" fill="#000"/>
<circle cx="127.80" cy="660.10" r="3.42" fill="#000"/>
<circle cx="137.40" cy="660.00" r="3.42" fill="#000"/>
<circle cx="138.30" cy="662.30" r="3.42" fill="#000"/>
<circle cx="147.20" cy="654.50" r="3.42" fill="#000"/>
<circle cx="152.20" cy="652.60" r="3.42" fill="#000"/>
<circle cx="150.30" cy="656.80" r="3.42" fill="#000"/>
<circle cx="154.50" cy="656.30" r="3.42" fill="#000"/>
<circle cx="160.70" cy="646.80" r="3.42" fill="#000"/>
<circle cx="166.70" cy="649.90" r="3.42" fill="#000"/>
<circle cx="163.90" cy="655.30" r="3.42" fill="#000"/>
<circle cx="104.40" cy="675.60" r="3.42" fill="#000"/>
<circle cx="120.80" cy="674.90" r="3.42" fill="#000"/>
<circle cx="114.20" cy="680.40" r="3.42" fill="#000"/>
<circle cx="121.00" cy="680.60" r="3.42" fill="#000"/>
<circle cx="120.60" cy="684.00" r="3.42" fill="#000"/>
<circle cx="129.20" cy="674.90" r="3.42" fill="#000"/>
<circle cx="133.10" cy="675.70" r="3.42" fill="#000"/>
<circle cx="129.60" cy="680.40" r="3.42" fill="#000"/>
<circle cx="142.50" cy="672.30" r="3.42" fill="#000"/>
<circle cx="142.10" cy="675.30" r="3.42" fill="#000"/>
<circle cx="150.30" cy="670.20" r="3.42" fill="#000"/>
<circle cx="152.80" cy="675.40" r="3.42" fill="#000"/>
<circle cx="157.70" cy="675.20" r="3.42" fill="#000"/>
<circle cx="145.80" cy="683.70" r="3.42" fill="#000"/>
<circle cx="166.40" cy="670.40" r="3.42" fill="#000"/>
<circle cx="167.80" cy="683.80" r="3.42" fill="#000"/>
<circle cx="162.20" cy="694.50" r="3.42" fill="#000"/>
<circle cx="172.70" cy="694.10" r="3.42" fill="#000"/>
<circle cx="116.00" cy="694.70" r="3.42" fill="#000"/>
<circle cx="118.60" cy="693.20" r="3.42" fill="#000"/>
<circle cx="129.60" cy="694.50" r="3.42" fill="#000"/>
<circle cx="133.50" cy="694.50" r="3.42" fill="#000"/>
<circle cx="138.00" cy="692.30" r="3.42" fill="#000"/>
<circle cx="135.50" cy="697.50" r="3.42" fill="#000"/>
<circle cx="142.20" cy="697.60" r="3.42" fill="#000"/>
<circle cx="104.50" cy="708.30" r="3.42" fill="#000"/>
<circle cx="123.80" cy="714.80" r="3.42" fill="#000"/>
<circle cx="134.00" cy="713.10" r="3.42" fill="#000"/>
<circle cx="155.20" cy="708.10" r="3.42" fill="#000"/>
<circle cx="154.80" cy="714.20" r="3.42" fill="#000"/>
<circle cx="167.60" cy="716.80" r="3.42" fill="#000"/>
<circle cx="79.90" cy="721.60" r="3.42" fill="#000"/>
<circle cx="82.10" cy="719.70" r="3.42" fill="#000"/>
<circle cx="92.60" cy="723.20" r="3.42" fill="#000"/>
<circle cx="86.00" cy="730.00" r="3.42" fill="#000"/>
<circle cx="80.80" cy="734.80" r="3.42" fill="#000"/>
<circle cx="81.20" cy="737.40" r="3.42" fill="#000"/>
<circle cx="87.80" cy="736.10" r="3.42" fill="#000"/>
<circle cx="95.20" cy="737.00" r="3.42" fill="#000"/>
<circle cx="100.50" cy="737.00" r="3.42" fill="#000"/>
<circle cx="106.20" cy="720.30" r="3.42" fill="#000"/>
<circle cx="102.20" cy="724.70" r="3.42" fill="#000"/>
<circle cx="113.60" cy="721.20" r="3.42" fill="#000"/>
<circle cx="114.90" cy="725.10" r="3.42" fill="#000"/>
<circle cx="106.20" cy="728.60" r="3.42" fill="#000"/>
<circle cx="111.40" cy="728.60" r="3.42" fill="#000"/>
<circle cx="127.60" cy="721.20" r="3.42" fill="#000"/>
<circle cx="123.20" cy="725.10" r="3.42" fill="#000"/>
<circle cx="128.30" cy="727.10" r="3.42" fill="#000"/>
<circle cx="124.60" cy="731.30" r="3.42" fill="#000"/>
<circle cx="107.00" cy="733.90" r="3.42" fill="#000"/>
<circle cx="113.20" cy="733.90" r="3.42" fill="#000"/>
<circle cx="119.80" cy="734.30" r="3.42" fill="#000"/>
<circle cx="108.80" cy="737.80" r="3.42" fill="#000"/>
<circle cx="114.90" cy="741.20" r="3.42" fill="#000"/>
<circle cx="121.00" cy="738.30" r="3.42" fill="#000"/>
<circle cx="126.80" cy="737.60" r="3.42" fill="#000"/>
<circle cx="130.30" cy="734.40" r="3.42" fill="#000"/>
<circle cx="138.20" cy="717.70" r="3.42" fill="#000"/>
<circle cx="153.10" cy="717.70" r="3.42" fill="#000"/>
<circle cx="154.00" cy="721.60" r="3.42" fill="#000"/>
<circle cx="155.70" cy="724.70" r="3.42" fill="#000"/>
<circle cx="156.60" cy="728.60" r="3.42" fill="#000"/>
<circle cx="143.00" cy="724.30" r="3.42" fill="#000"/>
<circle cx="142.60" cy="728.60" r="3.42" fill="#000"/>
<circle cx="133.80" cy="730.80" r="3.42" fill="#000"/>
<circle cx="136.00" cy="734.80" r="3.42" fill="#000"/>
<circle cx="141.30" cy="733.00" r="3.42" fill="#000"/>
<circle cx="146.50" cy="733.00" r="3.42" fill="#000"/>
<circle cx="152.70" cy="733.00" r="3.42" fill="#000"/>
<circle cx="141.30" cy="737.80" r="3.42" fill="#000"/>
<circle cx="150.00" cy="737.00" r="3.42" fill="#000"/>
<circle cx="135.60" cy="741.80" r="3.42" fill="#000"/>
<circle cx="143.00" cy="742.20" r="3.42" fill="#000"/>
<circle cx="148.70" cy="740.90" r="3.42" fill="#000"/>
<circle cx="151.80" cy="738.30" r="3.42" fill="#000"/>
<circle cx="118.50" cy="739.20" r="3.42" fill="#000"/>
<circle cx="103.50" cy="728.60" r="3.42" fill="#000"/>
<circle cx="109.70" cy="731.30" r="3.42" fill="#000"/>
<circle cx="117.50" cy="729.50" r="3.42" fill="#000"/>
<circle cx="121.00" cy="730.40" r="3.42" fill="#000"/>
<circle cx="124.60" cy="735.70" r="3.42" fill="#000"/>
<circle cx="129.80" cy="730.40" r="3.42" fill="#000"/>
<circle cx="117.50" cy="737.40" r="3.42" fill="#000"/>
<circle cx="84.30" cy="736.50" r="3.42" fill="#000"/>
<circle cx="104.00" cy="737.00" r="3.42" fill="#000"/>
<circle cx="106.60" cy="725.00" r="3.42" fill="#000"/>
<circle cx="130.80" cy="732.20" r="3.42" fill="#000"/>
<circle cx="122.90" cy="735.70" r="3.42" fill="#000"/>
<circle cx="131.60" cy="737.40" r="3.42" fill="#000"/>
<circle cx="145.70" cy="737.00" r="3.42" fill="#000"/>
<circle cx="138.60" cy="731.30" r="3.42" fill="#000"/>
<circle cx="148.30" cy="731.30" r="3.42" fill="#000"/>
<circle cx="116.80" cy="735.70" r="3.42" fill="#000"/>
</svg>
</body></html>
